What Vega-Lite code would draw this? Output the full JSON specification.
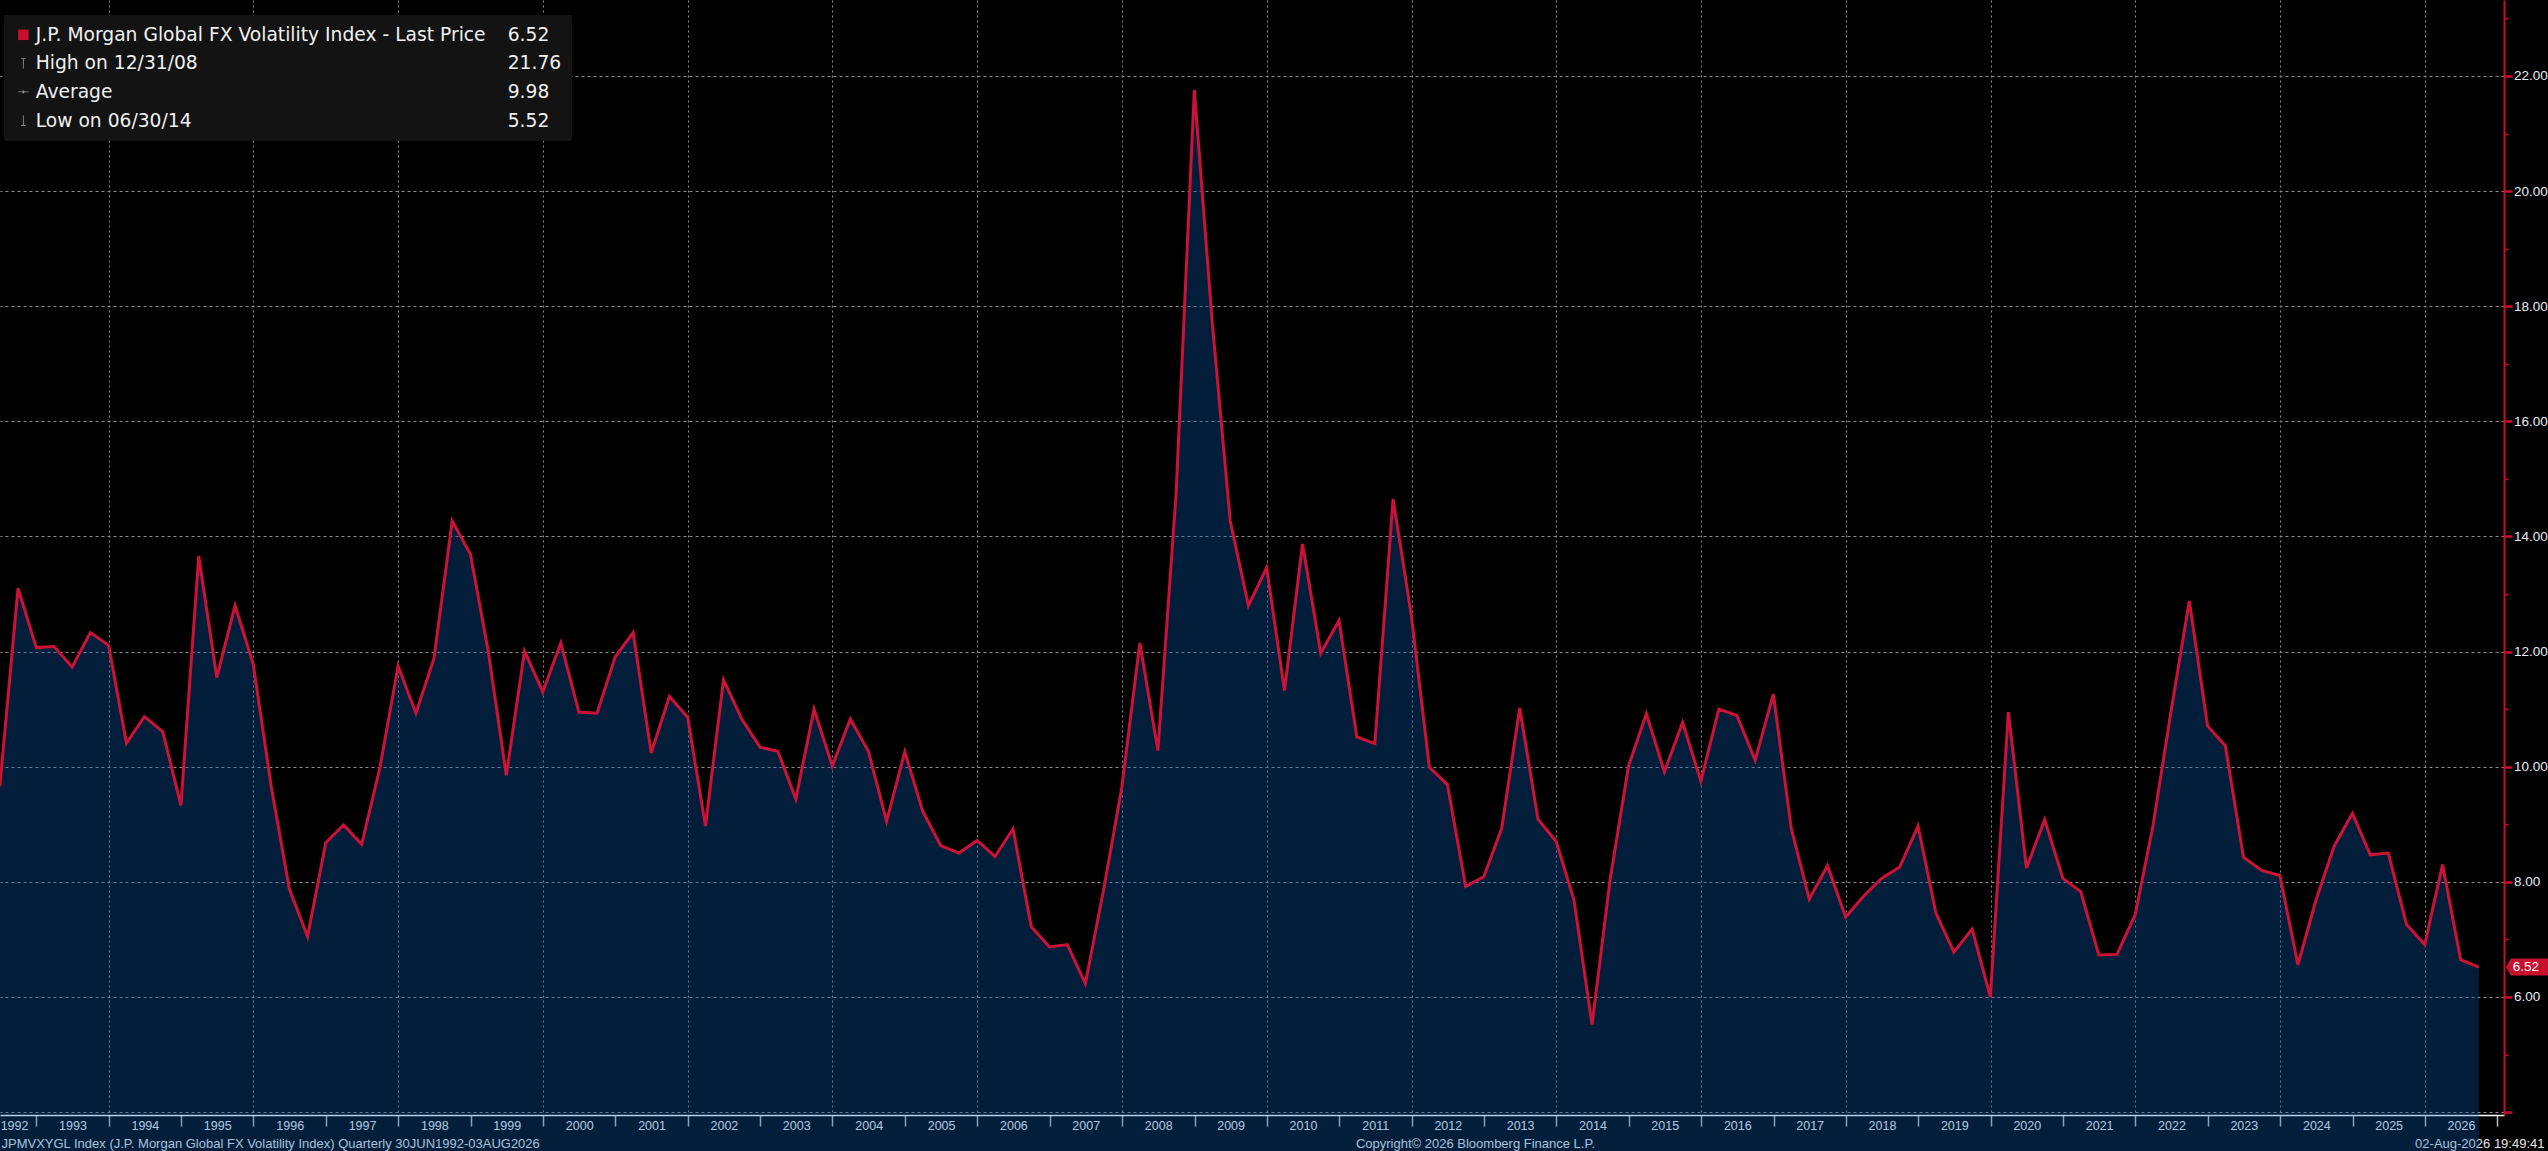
{
  "$schema": "https://vega.github.io/schema/vega-lite/v6.json",
  "width": 2504,
  "height": 1115,
  "autosize": {"type": "none"},
  "padding": {"left": 0, "top": 0, "right": 44, "bottom": 36},
  "background": "#000000",
  "config": {"view": {"stroke": null, "fill": "#000000"}, "font": "Liberation Sans"},
  "datasets": {
    "fx": [
      {"date": "1992-06-30", "value": 9.66}, {"date": "1992-09-30", "value": 13.10}, {"date": "1992-12-31", "value": 12.07},
      {"date": "1993-03-31", "value": 12.09}, {"date": "1993-06-30", "value": 11.73}, {"date": "1993-09-30", "value": 12.33}, {"date": "1993-12-31", "value": 12.11},
      {"date": "1994-03-31", "value": 10.41}, {"date": "1994-06-30", "value": 10.87}, {"date": "1994-09-30", "value": 10.61}, {"date": "1994-12-31", "value": 9.33},
      {"date": "1995-03-31", "value": 13.66}, {"date": "1995-06-30", "value": 11.55}, {"date": "1995-09-30", "value": 12.80}, {"date": "1995-12-31", "value": 11.78},
      {"date": "1996-03-31", "value": 9.65}, {"date": "1996-06-30", "value": 7.88}, {"date": "1996-09-30", "value": 7.05}, {"date": "1996-12-31", "value": 8.68},
      {"date": "1997-03-31", "value": 8.99}, {"date": "1997-06-30", "value": 8.65}, {"date": "1997-09-30", "value": 9.98}, {"date": "1997-12-31", "value": 11.75},
      {"date": "1998-03-31", "value": 10.93}, {"date": "1998-06-30", "value": 11.88}, {"date": "1998-09-30", "value": 14.27}, {"date": "1998-12-31", "value": 13.69},
      {"date": "1999-03-31", "value": 12.00}, {"date": "1999-06-30", "value": 9.85}, {"date": "1999-09-30", "value": 12.01}, {"date": "1999-12-31", "value": 11.30},
      {"date": "2000-03-31", "value": 12.15}, {"date": "2000-06-30", "value": 10.95}, {"date": "2000-09-30", "value": 10.93}, {"date": "2000-12-31", "value": 11.91},
      {"date": "2001-03-31", "value": 12.33}, {"date": "2001-06-30", "value": 10.24}, {"date": "2001-09-30", "value": 11.22}, {"date": "2001-12-31", "value": 10.86},
      {"date": "2002-03-31", "value": 8.97}, {"date": "2002-06-30", "value": 11.51}, {"date": "2002-09-30", "value": 10.83}, {"date": "2002-12-31", "value": 10.34},
      {"date": "2003-03-31", "value": 10.27}, {"date": "2003-06-30", "value": 9.44}, {"date": "2003-09-30", "value": 11.00}, {"date": "2003-12-31", "value": 10.01},
      {"date": "2004-03-31", "value": 10.83}, {"date": "2004-06-30", "value": 10.27}, {"date": "2004-09-30", "value": 9.05}, {"date": "2004-12-31", "value": 10.26},
      {"date": "2005-03-31", "value": 9.23}, {"date": "2005-06-30", "value": 8.63}, {"date": "2005-09-30", "value": 8.50}, {"date": "2005-12-31", "value": 8.72},
      {"date": "2006-03-31", "value": 8.44}, {"date": "2006-06-30", "value": 8.92}, {"date": "2006-09-30", "value": 7.22}, {"date": "2006-12-31", "value": 6.87},
      {"date": "2007-03-31", "value": 6.91}, {"date": "2007-06-30", "value": 6.23}, {"date": "2007-09-30", "value": 7.86}, {"date": "2007-12-31", "value": 9.64},
      {"date": "2008-03-31", "value": 12.15}, {"date": "2008-06-30", "value": 10.28}, {"date": "2008-09-30", "value": 14.74}, {"date": "2008-12-31", "value": 21.76},
      {"date": "2009-03-31", "value": 17.73}, {"date": "2009-06-30", "value": 14.27}, {"date": "2009-09-30", "value": 12.80}, {"date": "2009-12-31", "value": 13.46},
      {"date": "2010-03-31", "value": 11.32}, {"date": "2010-06-30", "value": 13.87}, {"date": "2010-09-30", "value": 11.97}, {"date": "2010-12-31", "value": 12.54},
      {"date": "2011-03-31", "value": 10.52}, {"date": "2011-06-30", "value": 10.40}, {"date": "2011-09-30", "value": 14.65}, {"date": "2011-12-31", "value": 12.63},
      {"date": "2012-03-31", "value": 9.99}, {"date": "2012-06-30", "value": 9.69}, {"date": "2012-09-30", "value": 7.92}, {"date": "2012-12-31", "value": 8.09},
      {"date": "2013-03-31", "value": 8.93}, {"date": "2013-06-30", "value": 11.02}, {"date": "2013-09-30", "value": 9.09}, {"date": "2013-12-31", "value": 8.70},
      {"date": "2014-03-31", "value": 7.68}, {"date": "2014-06-30", "value": 5.52}, {"date": "2014-09-30", "value": 8.06}, {"date": "2014-12-31", "value": 10.01},
      {"date": "2015-03-31", "value": 10.92}, {"date": "2015-06-30", "value": 9.91}, {"date": "2015-09-30", "value": 10.77}, {"date": "2015-12-31", "value": 9.75},
      {"date": "2016-03-31", "value": 11.00}, {"date": "2016-06-30", "value": 10.89}, {"date": "2016-09-30", "value": 10.11}, {"date": "2016-12-31", "value": 11.26},
      {"date": "2017-03-31", "value": 8.93}, {"date": "2017-06-30", "value": 7.70}, {"date": "2017-09-30", "value": 8.28}, {"date": "2017-12-31", "value": 7.39},
      {"date": "2018-03-31", "value": 7.75}, {"date": "2018-06-30", "value": 8.06}, {"date": "2018-09-30", "value": 8.26}, {"date": "2018-12-31", "value": 8.97},
      {"date": "2019-03-31", "value": 7.46}, {"date": "2019-06-30", "value": 6.78}, {"date": "2019-09-30", "value": 7.18}, {"date": "2019-12-31", "value": 6.00},
      {"date": "2020-03-31", "value": 10.95}, {"date": "2020-06-30", "value": 8.24}, {"date": "2020-09-30", "value": 9.08}, {"date": "2020-12-31", "value": 8.06},
      {"date": "2021-03-31", "value": 7.83}, {"date": "2021-06-30", "value": 6.73}, {"date": "2021-09-30", "value": 6.74}, {"date": "2021-12-31", "value": 7.43},
      {"date": "2022-03-31", "value": 8.98}, {"date": "2022-06-30", "value": 10.97}, {"date": "2022-09-30", "value": 12.88}, {"date": "2022-12-31", "value": 10.71},
      {"date": "2023-03-31", "value": 10.36}, {"date": "2023-06-30", "value": 8.43}, {"date": "2023-09-30", "value": 8.20}, {"date": "2023-12-31", "value": 8.11},
      {"date": "2024-03-31", "value": 6.56}, {"date": "2024-06-30", "value": 7.68}, {"date": "2024-09-30", "value": 8.62}, {"date": "2024-12-31", "value": 9.19},
      {"date": "2025-03-31", "value": 8.47}, {"date": "2025-06-30", "value": 8.50}, {"date": "2025-09-30", "value": 7.26}, {"date": "2025-12-31", "value": 6.91},
      {"date": "2026-03-31", "value": 8.30}, {"date": "2026-06-30", "value": 6.65}, {"date": "2026-09-30", "value": 6.52}
    ],
    "last": [{"date": "2026-09-30", "value": 6.52}],
    "legend": [
      {"item": "J.P. Morgan Global FX Volatility Index - Last Price"},
      {"item": "High on 12/31/08"},
      {"item": "Average"},
      {"item": "Low on 06/30/14"},
      {"item": "\u20076.52"},
      {"item": "21.76"},
      {"item": "\u20079.98"},
      {"item": "\u20075.52"}
    ]
  },
  "layer": [
    {
      "data": {"name": "fx"},
      "mark": {"type": "area", "color": "#0a64c1", "fillOpacity": 0.3},
      "encoding": {
        "x": {
          "field": "date", "type": "temporal",
          "scale": {"type": "utc", "domain": [{"year": 1992, "month": 7, "date": 1, "utc": true}, {"year": 2027, "month": 2, "date": 4, "utc": true}]},
          "axis": {
            "orient": "bottom",
            "values": [
              {"year": 1993, "month": 1, "date": 1, "utc": true}, {"year": 1994, "month": 1, "date": 1, "utc": true}, {"year": 1995, "month": 1, "date": 1, "utc": true},
              {"year": 1996, "month": 1, "date": 1, "utc": true}, {"year": 1997, "month": 1, "date": 1, "utc": true}, {"year": 1998, "month": 1, "date": 1, "utc": true},
              {"year": 1999, "month": 1, "date": 1, "utc": true}, {"year": 2000, "month": 1, "date": 1, "utc": true}, {"year": 2001, "month": 1, "date": 1, "utc": true},
              {"year": 2002, "month": 1, "date": 1, "utc": true}, {"year": 2003, "month": 1, "date": 1, "utc": true}, {"year": 2004, "month": 1, "date": 1, "utc": true},
              {"year": 2005, "month": 1, "date": 1, "utc": true}, {"year": 2006, "month": 1, "date": 1, "utc": true}, {"year": 2007, "month": 1, "date": 1, "utc": true},
              {"year": 2008, "month": 1, "date": 1, "utc": true}, {"year": 2009, "month": 1, "date": 1, "utc": true}, {"year": 2010, "month": 1, "date": 1, "utc": true},
              {"year": 2011, "month": 1, "date": 1, "utc": true}, {"year": 2012, "month": 1, "date": 1, "utc": true}, {"year": 2013, "month": 1, "date": 1, "utc": true},
              {"year": 2014, "month": 1, "date": 1, "utc": true}, {"year": 2015, "month": 1, "date": 1, "utc": true}, {"year": 2016, "month": 1, "date": 1, "utc": true},
              {"year": 2017, "month": 1, "date": 1, "utc": true}, {"year": 2018, "month": 1, "date": 1, "utc": true}, {"year": 2019, "month": 1, "date": 1, "utc": true},
              {"year": 2020, "month": 1, "date": 1, "utc": true}, {"year": 2021, "month": 1, "date": 1, "utc": true}, {"year": 2022, "month": 1, "date": 1, "utc": true},
              {"year": 2023, "month": 1, "date": 1, "utc": true}, {"year": 2024, "month": 1, "date": 1, "utc": true}, {"year": 2025, "month": 1, "date": 1, "utc": true},
              {"year": 2026, "month": 1, "date": 1, "utc": true}, {"year": 2027, "month": 1, "date": 1, "utc": true}
            ],
            "labels": false,
            "ticks": true, "tickSize": 11, "tickColor": "#bdbdbd", "tickWidth": 1.5,
            "domain": true, "domainColor": "#ffffff", "domainWidth": 1.5,
            "grid": true, "gridColor": "#8c8c8c", "gridDash": [2, 3], "gridWidth": 1,
            "gridOpacity": {"condition": {"test": "utcyear(datum.value) % 2 === 0", "value": 1}, "value": 0},
            "title": "02-Aug-2026 19:49:41",
            "titleX": 2544, "titleY": 28.5, "titleAlign": "right", "titleBaseline": "middle", "titleAngle": 0,
            "titleFont": "Liberation Sans", "titleFontSize": 13, "titleFontWeight": "normal", "titleColor": "#e8e8e8"
          }
        },
        "y": {
          "field": "value", "type": "quantitative",
          "scale": {"domain": [3.95, 23.32], "zero": false, "nice": false},
          "axis": {
            "orient": "right",
            "values": [4, 6, 8, 10, 12, 14, 16, 18, 20, 22],
            "labelExpr": "datum.value < 5 ? '' : format(datum.value, '.2f')",
            "domain": true, "domainColor": "#c8102e", "domainWidth": 2,
            "ticks": true, "tickColor": "#c8102e", "tickSize": 8, "tickWidth": 2.5,
            "grid": true, "gridColor": "#8c8c8c", "gridDash": [3, 3], "gridWidth": 1,
            "labelFont": "Liberation Sans", "labelFontSize": 13.5, "labelColor": "#e6ecf5",
            "labelPadding": 1.5, "labelBaseline": "middle", "labelOverlap": false, "labelFlush": false,
            "title": null
          }
        }
      }
    },
    {
      "data": {"name": "fx"},
      "mark": {"type": "line", "color": "#cc1236", "strokeWidth": 3, "strokeJoin": "miter"},
      "encoding": {
        "x": {
          "field": "date", "type": "temporal",
          "axis": {
            "orient": "bottom",
            "values": [
              {"year": 1992, "month": 9, "date": 10, "utc": true},
              {"year": 1993, "month": 7, "date": 2, "utc": true}, {"year": 1994, "month": 7, "date": 2, "utc": true}, {"year": 1995, "month": 7, "date": 2, "utc": true},
              {"year": 1996, "month": 7, "date": 2, "utc": true}, {"year": 1997, "month": 7, "date": 2, "utc": true}, {"year": 1998, "month": 7, "date": 2, "utc": true},
              {"year": 1999, "month": 7, "date": 2, "utc": true}, {"year": 2000, "month": 7, "date": 2, "utc": true}, {"year": 2001, "month": 7, "date": 2, "utc": true},
              {"year": 2002, "month": 7, "date": 2, "utc": true}, {"year": 2003, "month": 7, "date": 2, "utc": true}, {"year": 2004, "month": 7, "date": 2, "utc": true},
              {"year": 2005, "month": 7, "date": 2, "utc": true}, {"year": 2006, "month": 7, "date": 2, "utc": true}, {"year": 2007, "month": 7, "date": 2, "utc": true},
              {"year": 2008, "month": 7, "date": 2, "utc": true}, {"year": 2009, "month": 7, "date": 2, "utc": true}, {"year": 2010, "month": 7, "date": 2, "utc": true},
              {"year": 2011, "month": 7, "date": 2, "utc": true}, {"year": 2012, "month": 7, "date": 2, "utc": true}, {"year": 2013, "month": 7, "date": 2, "utc": true},
              {"year": 2014, "month": 7, "date": 2, "utc": true}, {"year": 2015, "month": 7, "date": 2, "utc": true}, {"year": 2016, "month": 7, "date": 2, "utc": true},
              {"year": 2017, "month": 7, "date": 2, "utc": true}, {"year": 2018, "month": 7, "date": 2, "utc": true}, {"year": 2019, "month": 7, "date": 2, "utc": true},
              {"year": 2020, "month": 7, "date": 2, "utc": true}, {"year": 2021, "month": 7, "date": 2, "utc": true}, {"year": 2022, "month": 7, "date": 2, "utc": true},
              {"year": 2023, "month": 7, "date": 2, "utc": true}, {"year": 2024, "month": 7, "date": 2, "utc": true}, {"year": 2025, "month": 7, "date": 2, "utc": true},
              {"year": 2026, "month": 7, "date": 2, "utc": true}
            ],
            "domain": false, "ticks": false, "tickSize": 0, "grid": false,
            "labelExpr": "utcFormat(datum.value, '%Y')",
            "labelFont": "Liberation Sans", "labelFontSize": 12.5, "labelColor": "#f2f2f2",
            "labelBaseline": "middle", "labelPadding": 10.5, "labelAlign": "center",
            "labelOverlap": false, "labelFlush": false,
            "title": "Copyright© 2026 Bloomberg Finance L.P.",
            "titleX": 1475, "titleY": 28.5, "titleAlign": "center", "titleBaseline": "middle", "titleAngle": 0,
            "titleFont": "Liberation Sans", "titleFontSize": 13, "titleFontWeight": "normal", "titleColor": "#e8e8e8"
          }
        },
        "y": {
          "field": "value", "type": "quantitative",
          "axis": {
            "orient": "right",
            "values": [5, 7, 9, 11, 13, 15, 17, 19, 21, 23],
            "labels": false, "domain": false, "grid": false,
            "ticks": true, "tickColor": "#c8102e", "tickSize": 4, "tickWidth": 1.5,
            "title": "JPMVXYGL Index (J.P. Morgan Global FX Volatility Index) Quarterly 30JUN1992-03AUG2026",
            "titleX": -2503, "titleY": 1143.5, "titleAngle": 0, "titleAlign": "left", "titleBaseline": "middle",
            "titleFont": "Liberation Sans", "titleFontSize": 13, "titleFontWeight": "normal", "titleColor": "#e8e8e8"
          }
        }
      }
    },
    {
      "data": {"name": "last"},
      "mark": {"type": "point", "shape": "M2.7,0L3.2,-0.85H7.0V0.85H3.2Z", "filled": true, "fill": "#c8102e", "opacity": 1, "size": 400, "strokeWidth": 0},
      "encoding": {
        "x": {"field": "date", "type": "temporal", "axis": null},
        "y": {"field": "value", "type": "quantitative", "axis": null}
      }
    },
    {
      "data": {"name": "last"},
      "mark": {"type": "text", "align": "left", "baseline": "middle", "dx": 34, "font": "Liberation Sans", "fontSize": 13.5, "color": "#ffffff"},
      "encoding": {
        "x": {"field": "date", "type": "temporal", "axis": null},
        "y": {"field": "value", "type": "quantitative", "axis": null},
        "text": {"field": "value", "type": "quantitative", "format": ".2f"}
      }
    },
    {
      "data": {"name": "legend"},
      "mark": {"type": "point", "filled": true, "opacity": 0},
      "encoding": {
        "color": {
          "field": "item", "type": "nominal",
          "scale": {
            "domain": ["J.P. Morgan Global FX Volatility Index - Last Price", "High on 12/31/08", "Average", "Low on 06/30/14", "\u20076.52", "21.76", "\u20079.98", "\u20075.52"],
            "range": ["#c8102e", "#8a8a8a", "#8a8a8a", "#8a8a8a", "transparent", "transparent", "transparent", "transparent"]
          },
          "legend": {
            "orient": "none", "legendX": 4, "legendY": 15, "columns": 2, "title": null,
            "fillColor": "#131313", "padding": 10, "cornerRadius": 2,
            "labelFont": "DejaVu Sans", "labelFontSize": 18.7, "labelColor": "#f0f0f0", "labelLimit": 700,
            "symbolSize": 110, "symbolOpacity": 1, "symbolStrokeWidth": 0,
            "labelOffset": 3, "rowPadding": 8.8, "columnPadding": 0,
            "encode": {"symbols": {"update": {"opacity": {"value": 1}}}}
          }
        },
        "shape": {
          "field": "item", "type": "nominal",
          "scale": {
            "domain": ["J.P. Morgan Global FX Volatility Index - Last Price", "High on 12/31/08", "Average", "Low on 06/30/14", "\u20076.52", "21.76", "\u20079.98", "\u20075.52"],
            "range": [
              "square",
              "M-0.45,-1H0.45V-0.82H0.09V1H-0.09V-0.82H-0.45Z",
              "M-1,-0.07H-0.22A0.22,0.22,0,0,1,0.22,-0.07H1V0.07H0.22A0.22,0.22,0,0,1,-0.22,0.07H-1Z",
              "M-0.09,-1H0.09V0.82H0.45V1H-0.45V0.82H-0.09Z",
              "circle", "circle", "circle", "circle"
            ]
          }
        }
      }
    }
  ],
  "resolve": {"axis": {"x": "independent", "y": "independent"}}
}
